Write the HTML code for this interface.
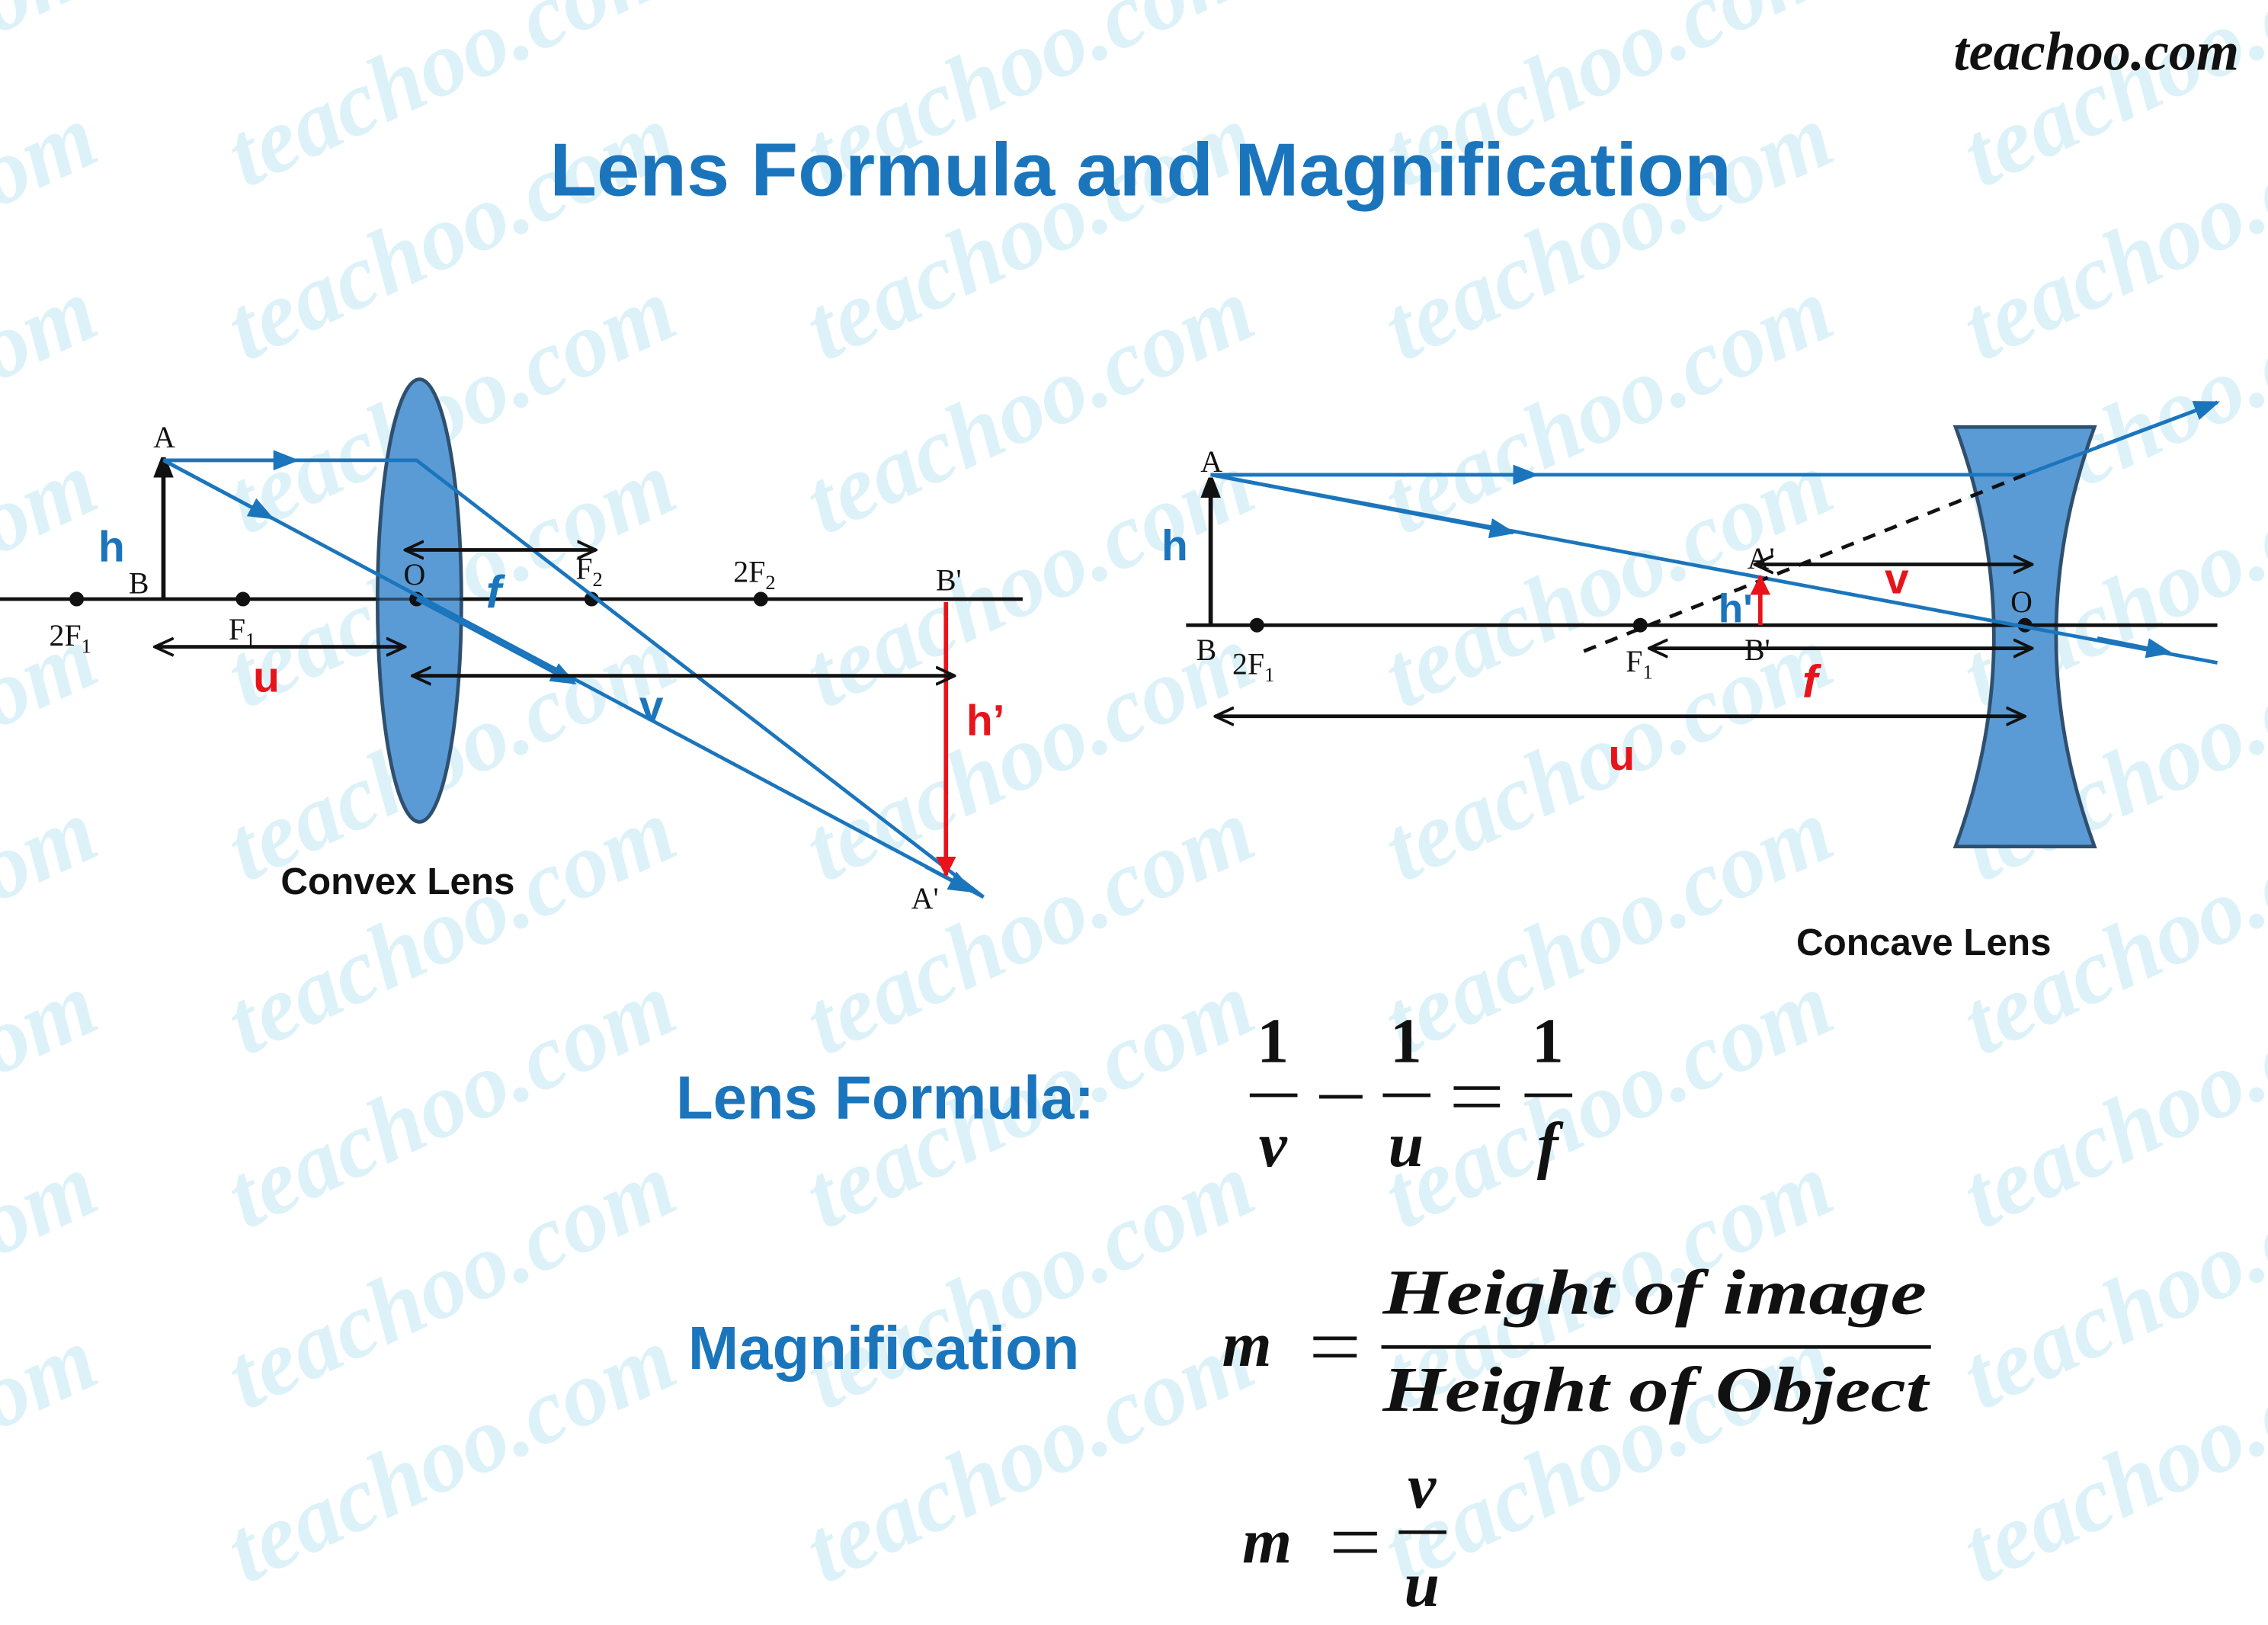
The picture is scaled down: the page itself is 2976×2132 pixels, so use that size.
<!DOCTYPE html>
<html><head><meta charset="utf-8"><style>
html,body{margin:0;padding:0;background:#fff;}
svg{display:block;}
.wm{font-family:"Liberation Serif",serif;font-style:italic;font-weight:bold;font-size:64px;fill:#dcf2f8;}
.lbl{font-family:"Liberation Serif",serif;font-size:21px;fill:#111;}
.sub{font-size:14px;}
.bb{font-family:"Liberation Sans",sans-serif;font-weight:bold;}
.mth{font-family:"Liberation Serif",serif;font-weight:bold;font-style:italic;fill:#111;}
</style></head><body>
<svg width="2976" height="2132" viewBox="0 0 1568 1123" xmlns="http://www.w3.org/2000/svg">
<defs>
<marker id="ak" markerWidth="14" markerHeight="20" refX="14" refY="7" orient="auto" markerUnits="userSpaceOnUse"><path d="M0,0 L18,7 L0,14 Z" fill="#111"/></marker>
<marker id="akk" markerWidth="14" markerHeight="14" refX="13" refY="7" orient="auto-start-reverse" markerUnits="userSpaceOnUse"><path d="M0,1 L13,7 L0,13" fill="none" stroke="#111" stroke-width="2"/></marker>
<marker id="ab" markerWidth="18" markerHeight="14" refX="16" refY="7" orient="auto" markerUnits="userSpaceOnUse"><path d="M0,0 L18,7 L0,14 Z" fill="#1b75bc"/></marker>
<marker id="ar" markerWidth="14" markerHeight="16" refX="13" refY="7" orient="auto" markerUnits="userSpaceOnUse"><path d="M0,0 L14,7 L0,14 Z" fill="#e8141c"/></marker>
</defs>
<g class="wm">
<text transform="translate(170,130) rotate(-25)">teachoo.com</text>
<text transform="translate(570,130) rotate(-25)">teachoo.com</text>
<text transform="translate(970,130) rotate(-25)">teachoo.com</text>
<text transform="translate(1370,130) rotate(-25)">teachoo.com</text>
<text transform="translate(-230,130) rotate(-25)">teachoo.com</text>
<text transform="translate(170,250) rotate(-25)">teachoo.com</text>
<text transform="translate(570,250) rotate(-25)">teachoo.com</text>
<text transform="translate(970,250) rotate(-25)">teachoo.com</text>
<text transform="translate(1370,250) rotate(-25)">teachoo.com</text>
<text transform="translate(-230,250) rotate(-25)">teachoo.com</text>
<text transform="translate(170,370) rotate(-25)">teachoo.com</text>
<text transform="translate(570,370) rotate(-25)">teachoo.com</text>
<text transform="translate(970,370) rotate(-25)">teachoo.com</text>
<text transform="translate(1370,370) rotate(-25)">teachoo.com</text>
<text transform="translate(-230,370) rotate(-25)">teachoo.com</text>
<text transform="translate(170,490) rotate(-25)">teachoo.com</text>
<text transform="translate(570,490) rotate(-25)">teachoo.com</text>
<text transform="translate(970,490) rotate(-25)">teachoo.com</text>
<text transform="translate(1370,490) rotate(-25)">teachoo.com</text>
<text transform="translate(-230,490) rotate(-25)">teachoo.com</text>
<text transform="translate(170,610) rotate(-25)">teachoo.com</text>
<text transform="translate(570,610) rotate(-25)">teachoo.com</text>
<text transform="translate(970,610) rotate(-25)">teachoo.com</text>
<text transform="translate(1370,610) rotate(-25)">teachoo.com</text>
<text transform="translate(-230,610) rotate(-25)">teachoo.com</text>
<text transform="translate(170,730) rotate(-25)">teachoo.com</text>
<text transform="translate(570,730) rotate(-25)">teachoo.com</text>
<text transform="translate(970,730) rotate(-25)">teachoo.com</text>
<text transform="translate(1370,730) rotate(-25)">teachoo.com</text>
<text transform="translate(-230,730) rotate(-25)">teachoo.com</text>
<text transform="translate(170,850) rotate(-25)">teachoo.com</text>
<text transform="translate(570,850) rotate(-25)">teachoo.com</text>
<text transform="translate(970,850) rotate(-25)">teachoo.com</text>
<text transform="translate(1370,850) rotate(-25)">teachoo.com</text>
<text transform="translate(-230,850) rotate(-25)">teachoo.com</text>
<text transform="translate(170,975) rotate(-25)">teachoo.com</text>
<text transform="translate(570,975) rotate(-25)">teachoo.com</text>
<text transform="translate(970,975) rotate(-25)">teachoo.com</text>
<text transform="translate(1370,975) rotate(-25)">teachoo.com</text>
<text transform="translate(-230,975) rotate(-25)">teachoo.com</text>
<text transform="translate(170,1095) rotate(-25)">teachoo.com</text>
<text transform="translate(570,1095) rotate(-25)">teachoo.com</text>
<text transform="translate(970,1095) rotate(-25)">teachoo.com</text>
<text transform="translate(1370,1095) rotate(-25)">teachoo.com</text>
<text transform="translate(-230,1095) rotate(-25)">teachoo.com</text>
</g>

<text x="1548" y="48" text-anchor="end" font-family="Liberation Serif,serif" font-style="italic" font-weight="bold" font-size="38" fill="#111">teachoo.com</text>
<text x="380" y="135" textLength="817" lengthAdjust="spacingAndGlyphs" class="bb" font-size="52" fill="#1b75bc">Lens Formula and Magnification</text>

<!-- ===== Convex ===== -->
<line x1="0" y1="414" x2="707" y2="414" stroke="#111" stroke-width="2.5"/>
<ellipse cx="290" cy="415" rx="29" ry="153" fill="#5b9bd5" stroke="#2f4f6f" stroke-width="2.5"/>
<line x1="0" y1="414" x2="707" y2="414" stroke="#111" stroke-width="2" opacity="0.6"/>
<g fill="#111"><circle cx="53" cy="414" r="5"/><circle cx="168" cy="414" r="5"/><circle cx="288" cy="414" r="5"/><circle cx="409" cy="414" r="5"/><circle cx="526" cy="414" r="5"/></g>
<line x1="113" y1="414" x2="113" y2="316" stroke="#111" stroke-width="3" marker-end="url(#ak)"/>
<polyline points="113,318 288,318 680,620" fill="none" stroke="#1b75bc" stroke-width="2.5"/>
<line x1="113" y1="318" x2="205" y2="318" stroke="#1b75bc" stroke-width="2.5" marker-end="url(#ab)"/>
<line x1="113" y1="318" x2="680" y2="620" stroke="#1b75bc" stroke-width="2.5"/>
<line x1="113" y1="318" x2="188" y2="358" stroke="#1b75bc" stroke-width="2.5" marker-end="url(#ab)"/>
<line x1="288" y1="414" x2="397" y2="472" stroke="#1b75bc" stroke-width="2.5" marker-end="url(#ab)"/>
<line x1="640" y1="599" x2="672" y2="616" stroke="#1b75bc" stroke-width="2.5" marker-end="url(#ab)"/>
<line x1="654" y1="416" x2="654" y2="605" stroke="#e8141c" stroke-width="3" marker-end="url(#ar)"/>
<g stroke="#111" stroke-width="2.5" fill="none">
<line x1="280" y1="380" x2="412" y2="380" marker-start="url(#akk)" marker-end="url(#akk)"/>
<line x1="107" y1="447" x2="280" y2="447" marker-start="url(#akk)" marker-end="url(#akk)"/>
<line x1="285" y1="467" x2="660" y2="467" marker-start="url(#akk)" marker-end="url(#akk)"/>
</g>
<g class="lbl">
<text x="106" y="309">A</text>
<text x="89" y="410">B</text>
<text x="34" y="446">2F<tspan class="sub" dy="5">1</tspan></text>
<text x="158" y="442">F<tspan class="sub" dy="5">1</tspan></text>
<text x="279" y="404">O</text>
<text x="398" y="400">F<tspan class="sub" dy="5">2</tspan></text>
<text x="507" y="402">2F<tspan class="sub" dy="5">2</tspan></text>
<text x="647" y="408">B'</text>
<text x="630" y="628">A'</text>
</g>
<text x="68" y="388" class="bb" font-size="30" fill="#1b75bc">h</text>
<text x="336" y="420" class="bb" font-style="italic" font-size="32" fill="#1b75bc">f</text>
<text x="175" y="478" class="bb" font-size="30" fill="#e8141c">u</text>
<text x="442" y="498" class="bb" font-size="30" fill="#1b75bc">v</text>
<text x="668" y="508" class="bb" font-size="30" fill="#e8141c">h’</text>
<text x="275" y="618" text-anchor="middle" class="bb" font-size="26" fill="#111">Convex Lens</text>

<!-- ===== Concave ===== -->
<path d="M1352,295 L1448,295 Q1395,440 1448,585 L1352,585 Q1405,440 1352,295 Z" fill="#5b9bd5" stroke="#2f4f6f" stroke-width="2.5"/>
<line x1="820" y1="432" x2="1533" y2="432" stroke="#111" stroke-width="2.5"/>
<g fill="#111"><circle cx="869" cy="432" r="5"/><circle cx="1134" cy="432" r="5"/><circle cx="1400" cy="432" r="5"/></g>
<line x1="837" y1="432" x2="837" y2="330" stroke="#111" stroke-width="3" marker-end="url(#ak)"/>
<polyline points="837,328 1400,328 1533,278" fill="none" stroke="#1b75bc" stroke-width="2.5"/>
<line x1="837" y1="328" x2="1062" y2="328" stroke="#1b75bc" stroke-width="2.5" marker-end="url(#ab)"/>
<line x1="1450" y1="309" x2="1533" y2="278" stroke="#1b75bc" stroke-width="2.5" marker-end="url(#ab)"/>
<line x1="837" y1="328" x2="1533" y2="458" stroke="#1b75bc" stroke-width="2.5"/>
<line x1="837" y1="328" x2="1046" y2="368" stroke="#1b75bc" stroke-width="2.5" marker-end="url(#ab)"/>
<line x1="1450" y1="441" x2="1500" y2="451" stroke="#1b75bc" stroke-width="2.5" marker-end="url(#ab)"/>
<line x1="1095" y1="450" x2="1400" y2="328" stroke="#111" stroke-width="2.5" stroke-dasharray="9,7"/>
<line x1="1217" y1="432" x2="1217" y2="398" stroke="#e8141c" stroke-width="3" marker-end="url(#ar)"/>
<g stroke="#111" stroke-width="2.5" fill="none">
<line x1="1213" y1="390" x2="1405" y2="390" marker-start="url(#akk)" marker-end="url(#akk)"/>
<line x1="1140" y1="448" x2="1405" y2="448" marker-start="url(#akk)" marker-end="url(#akk)"/>
<line x1="840" y1="495" x2="1400" y2="495" marker-start="url(#akk)" marker-end="url(#akk)"/>
</g>
<g class="lbl">
<text x="830" y="326">A</text>
<text x="827" y="456">B</text>
<text x="852" y="466">2F<tspan class="sub" dy="5">1</tspan></text>
<text x="1124" y="464">F<tspan class="sub" dy="5">1</tspan></text>
<text x="1208" y="393">A'</text>
<text x="1206" y="456">B'</text>
<text x="1390" y="423">O</text>
</g>
<text x="803" y="387" class="bb" font-size="30" fill="#1b75bc">h</text>
<text x="1188" y="430" class="bb" font-size="28" fill="#1b75bc">h'</text>
<text x="1303" y="410" class="bb" font-size="30" fill="#e8141c">v</text>
<text x="1246" y="482" class="bb" font-style="italic" font-size="32" fill="#e8141c">f</text>
<text x="1112" y="532" class="bb" font-size="30" fill="#e8141c">u</text>
<text x="1330" y="660" text-anchor="middle" class="bb" font-size="26" fill="#111">Concave Lens</text>

<!-- ===== Formulas ===== -->
<text x="612" y="773" text-anchor="middle" class="bb" font-size="42" fill="#1b75bc">Lens Formula:</text>
<g class="mth" font-size="44" text-anchor="middle">
<text x="880" y="734" font-style="normal">1</text>
<text x="880" y="806">v</text>
<text x="972" y="734" font-style="normal">1</text>
<text x="972" y="806">u</text>
<text x="1070" y="734" font-style="normal">1</text>
<text x="1070" y="806">f</text>
</g>
<g stroke="#111" stroke-width="2.5">
<line x1="864" y1="757" x2="897" y2="757"/>
<line x1="956" y1="757" x2="989" y2="757"/>
<line x1="1054" y1="757" x2="1087" y2="757"/>
<line x1="912" y1="758" x2="942" y2="758"/>
<line x1="1005" y1="752" x2="1037" y2="752"/>
<line x1="1005" y1="764" x2="1037" y2="764"/>
</g>

<text x="611" y="946" text-anchor="middle" class="bb" font-size="42" fill="#1b75bc">Magnification</text>
<g class="mth" font-size="44">
<text x="862" y="944" text-anchor="middle">m</text>
<text x="956" y="908" textLength="376" lengthAdjust="spacingAndGlyphs">Height of image</text>
<text x="956" y="975" textLength="377" lengthAdjust="spacingAndGlyphs">Height of Object</text>
<text x="876" y="1080" text-anchor="middle">m</text>
<text x="983" y="1042" text-anchor="middle">v</text>
<text x="983" y="1110" text-anchor="middle">u</text>
</g>
<g stroke="#111" stroke-width="2.5">
<line x1="955" y1="931" x2="1335" y2="931"/>
<line x1="908" y1="925" x2="938" y2="925"/>
<line x1="908" y1="937" x2="938" y2="937"/>
<line x1="967" y1="1059" x2="1000" y2="1059"/>
<line x1="922" y1="1060" x2="952" y2="1060"/>
<line x1="922" y1="1072" x2="952" y2="1072"/>
</g>
</svg>
</body></html>
